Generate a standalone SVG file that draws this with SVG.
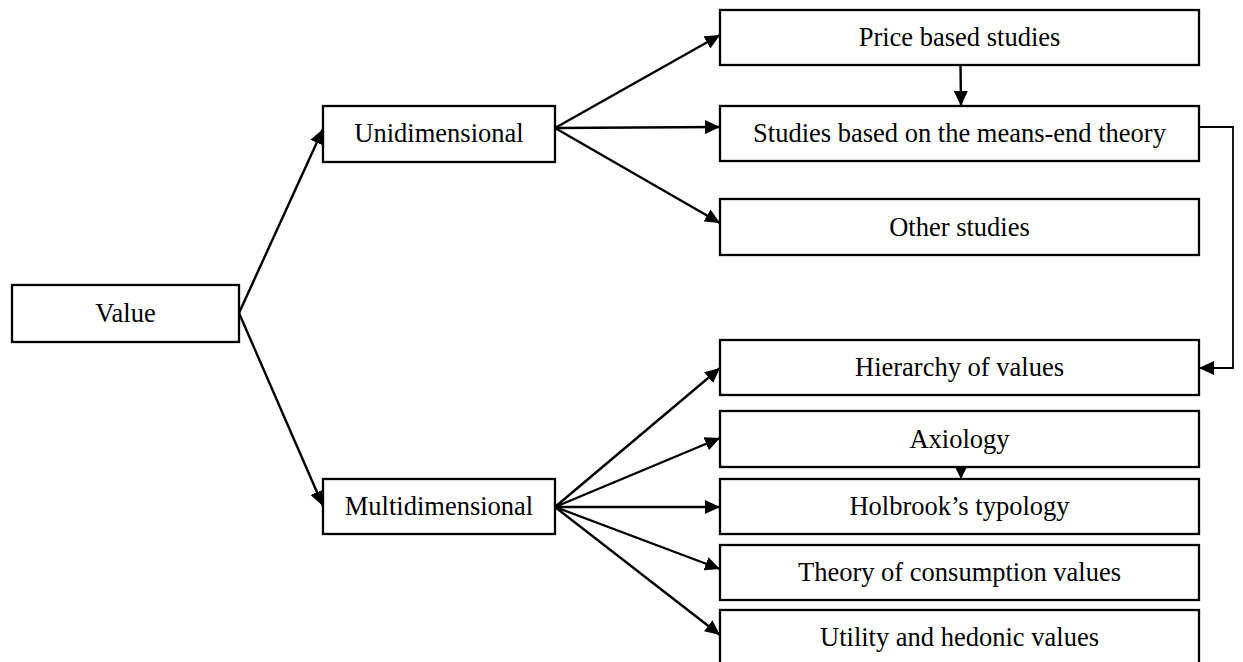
<svg xmlns="http://www.w3.org/2000/svg" width="1243" height="662" viewBox="0 0 1243 662">
<style>
.box{fill:#fff;stroke:#000;stroke-width:2.3}
.lbl{font-family:"Liberation Serif","Times New Roman",serif;font-size:26.5px;fill:#000;text-anchor:middle}
.c{fill:none;stroke:#000;stroke-width:2.4;marker-end:url(#ah)}
.t{fill:none;stroke:#000;stroke-width:1.8}
</style>
<defs>
<marker id="ah" markerUnits="userSpaceOnUse" markerWidth="16" markerHeight="14" refX="15" refY="7" orient="auto">
<path d="M0,0 L15,7 L0,14 z" fill="#000"/>
</marker>
<marker id="ahs" markerUnits="userSpaceOnUse" markerWidth="12" markerHeight="12" refX="11" refY="5.5" orient="auto">
<path d="M0,0 L11,5.5 L0,11 z" fill="#000"/>
</marker>
</defs>
<g id="value"><rect class="box" x="12" y="285" width="227" height="57"/><text class="lbl" x="125.5" y="322">Value</text></g>
<g id="unidimensional"><rect class="box" x="323" y="106" width="232" height="56"/><text class="lbl" x="439" y="142">Unidimensional</text></g>
<g id="multidimensional"><rect class="box" x="323" y="479" width="232" height="55"/><text class="lbl" x="439" y="515">Multidimensional</text></g>
<g id="price"><rect class="box" x="720" y="10" width="479" height="55"/><text class="lbl" x="959.5" y="46">Price based studies</text></g>
<g id="meansend"><rect class="box" x="720" y="106" width="479" height="55"/><text class="lbl" x="959.5" y="142">Studies based on the means-end theory</text></g>
<g id="other"><rect class="box" x="720" y="199" width="479" height="56"/><text class="lbl" x="959.5" y="236">Other studies</text></g>
<g id="hierarchy"><rect class="box" x="720" y="340" width="479" height="55"/><text class="lbl" x="959.5" y="376">Hierarchy of values</text></g>
<g id="axiology"><rect class="box" x="720" y="411" width="479" height="56"/><text class="lbl" x="959.5" y="448">Axiology</text></g>
<g id="holbrook"><rect class="box" x="720" y="479" width="479" height="55"/><text class="lbl" x="959.5" y="515">Holbrook’s typology</text></g>
<g id="theory"><rect class="box" x="720" y="545" width="479" height="55"/><text class="lbl" x="959.5" y="581">Theory of consumption values</text></g>
<g id="utility"><rect class="box" x="720" y="610" width="479" height="55"/><text class="lbl" x="959.5" y="646">Utility and hedonic values</text></g>
<g id="connectors">
<line class="c" x1="239" y1="313" x2="323" y2="129"/>
<line class="c" x1="239" y1="313" x2="323" y2="506"/>
<line class="c" x1="555" y1="128" x2="720" y2="35"/>
<line class="c" x1="555" y1="128" x2="720" y2="127"/>
<line class="c" x1="555" y1="128" x2="720" y2="223"/>
<line class="c" x1="960.5" y1="65" x2="961" y2="106"/>
<line class="c" x1="555" y1="507" x2="720" y2="368"/>
<line class="c" x1="555" y1="507" x2="720" y2="438"/>
<line class="c" x1="555" y1="507" x2="720" y2="507"/>
<line class="c" x1="555" y1="507" x2="720" y2="569"/>
<line class="c" x1="555" y1="507" x2="720" y2="635"/>
<line x1="961" y1="467" x2="961" y2="479" stroke="#000" stroke-width="1.5" marker-end="url(#ahs)"/>
<polyline class="t" points="1199,127 1233,127 1233,368 1199,368" marker-end="url(#ah)"/>
</g>
</svg>
